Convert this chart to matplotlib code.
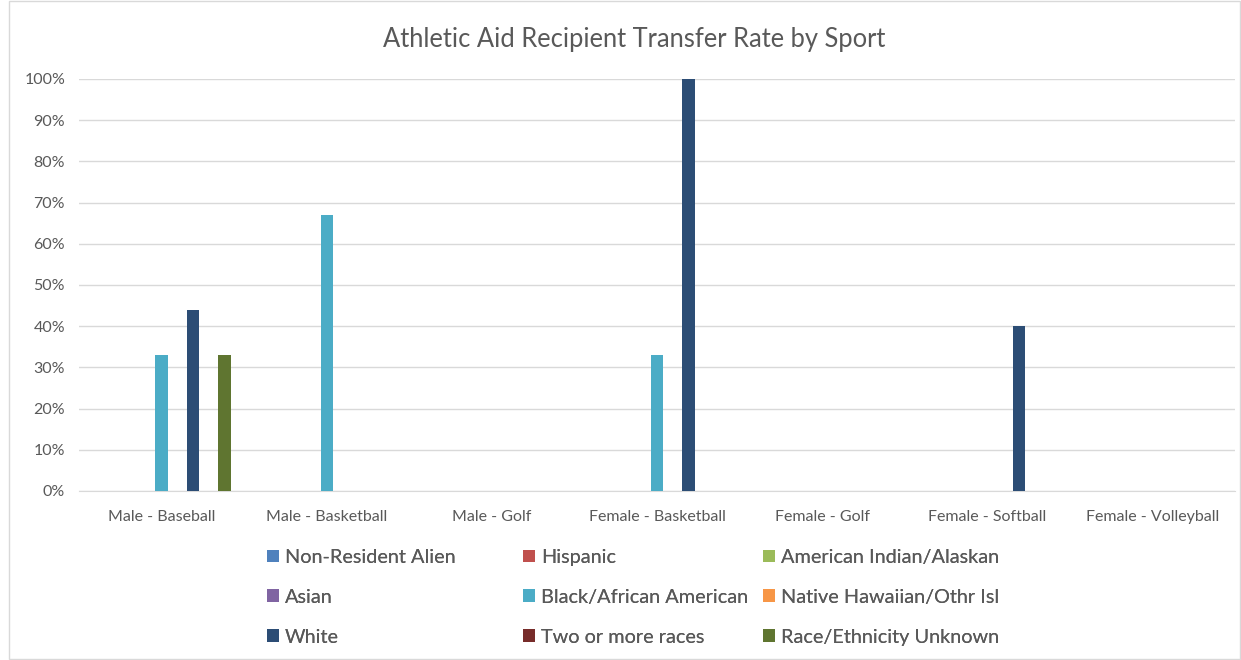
import numpy as np
import matplotlib.pyplot as plt
from matplotlib.patches import Rectangle
from matplotlib.ticker import PercentFormatter

plt.rcParams['font.family'] = ['Lato', 'DejaVu Sans']

sports = ['Male - Baseball', 'Male - Basketball', 'Male - Golf', 'Female - Basketball',
          'Female - Golf', 'Female - Softball', 'Female - Volleyball']
groups = ['Non-Resident Alien', 'Hispanic', 'American Indian/Alaskan', 'Asian',
          'Black/African American', 'Native Hawaiian/Othr Isl', 'White',
          'Two or more races', 'Race/Ethnicity Unknown']
colors = ['#4F81BD', '#C0504D', '#9BBB59', '#8064A2', '#4BACC6', '#F79646',
          '#2C4D75', '#772C2A', '#5F7530']

# transfer rate (%) per group, one value per sport
non_resident = [0, 0, 0, 0, 0, 0, 0]
hispanic = [0, 0, 0, 0, 0, 0, 0]
amer_indian = [0, 0, 0, 0, 0, 0, 0]
asian = [0, 0, 0, 0, 0, 0, 0]
black = [33, 67, 0, 33, 0, 0, 0]
hawaiian = [0, 0, 0, 0, 0, 0, 0]
white = [44, 0, 0, 100, 0, 40, 0]
two_more = [0, 0, 0, 0, 0, 0, 0]
unknown = [33, 0, 0, 0, 0, 0, 0]
values = [non_resident, hispanic, amer_indian, asian, black, hawaiian, white, two_more, unknown]

fig = plt.figure(figsize=(12.41, 6.6), dpi=100)
ax = fig.add_axes([79 / 1241, 1 - 491 / 660, (1235 - 79) / 1241, (491 - 79) / 660])

x = np.arange(len(sports))
pitch = 0.0955
width = 0.075
handles = []
for i, (name, vals, c) in enumerate(zip(groups, values, colors)):
    b = ax.bar(x + (i - 4) * pitch, vals, width, color=c, label=name, zorder=3)
    handles.append(b)

ax.set_xlim(-0.5, len(sports) - 0.5)
ax.set_ylim(0, 100)
ax.set_yticks(range(0, 101, 10))
ax.yaxis.set_major_formatter(PercentFormatter(decimals=0))
ax.set_xticks(x)
ax.set_xticklabels(sports)
ax.grid(axis='y', color='#D9D9D9', linewidth=1, zorder=0)
for s in ['top', 'right', 'left']:
    ax.spines[s].set_visible(False)
ax.spines['bottom'].set_color('#D9D9D9')
ax.tick_params(length=0, labelsize=11.5, colors='#595959')
ax.tick_params(axis='x', pad=14)
ax.tick_params(axis='y', pad=10)

fig.text(634 / 1241, 1 - 40 / 660, 'Athletic Aid Recipient Transfer Rate by Sport',
         ha='center', va='center', fontsize=18.4, color='#595959')

# one legend per column, Excel lays entries out row by row
col_x = [259, 515, 755]
for k in range(3):
    idx = [k, k + 3, k + 6]
    leg = fig.legend([handles[j] for j in idx], [groups[j] for j in idx],
                     loc='upper left', bbox_to_anchor=(col_x[k] / 1241, 1 - 541 / 660),
                     frameon=False, fontsize=14.3, handlelength=0.6, handleheight=0.6,
                     handletextpad=0.3, labelspacing=1.15, labelcolor='#595959',
                     borderaxespad=0)
    fig.add_artist(leg)

fig.patches.append(Rectangle((9 / 1241, 0.002), 1 - 10 / 1241, 0.996, transform=fig.transFigure,
                             fill=False, edgecolor='#D9D9D9', linewidth=1))

fig.savefig('out.png', dpi=100)
